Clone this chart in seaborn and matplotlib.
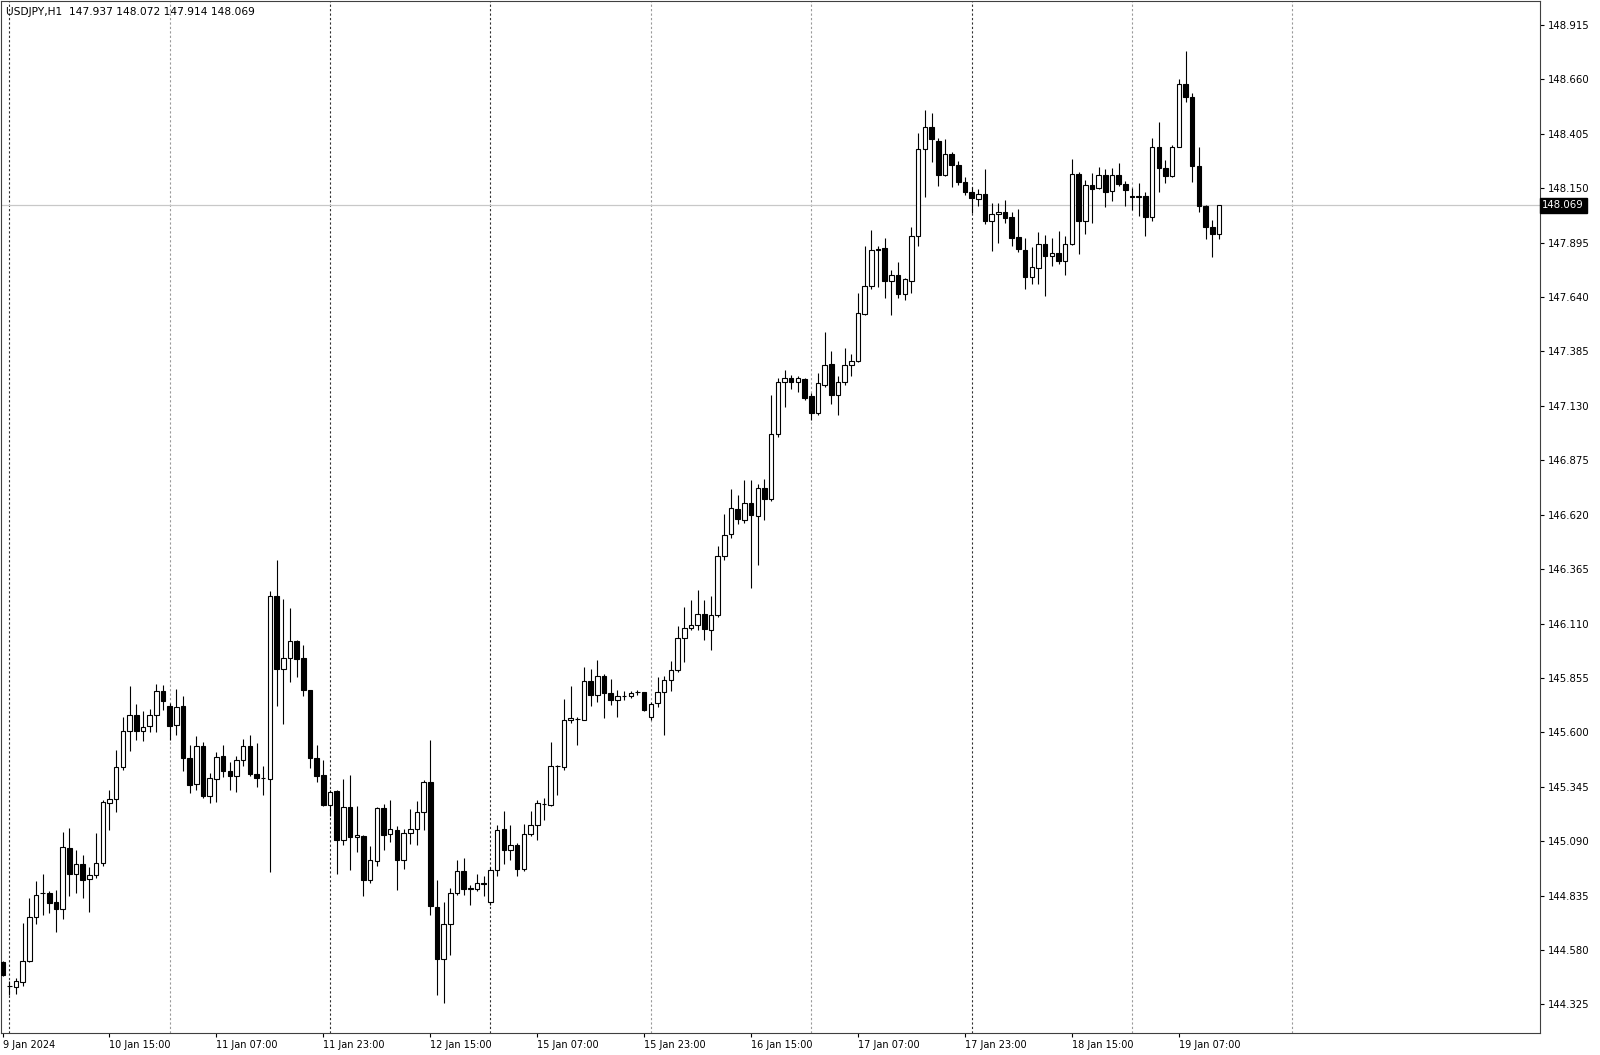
import numpy as np
import pandas as pd
import matplotlib
matplotlib.use("Agg")
import matplotlib.pyplot as plt
import matplotlib.transforms as mtransforms
import seaborn as sns

SYMBOL = "USDJPY,H1"

# hourly bars, 9 Jan 23:00 .. 19 Jan 13:00 (weekend skipped)
opens = [
    144.523, 144.411, 144.408, 144.429, 144.528, 144.736, 144.845, 144.845, 144.804, 144.773,
    145.060, 144.938, 144.981, 144.914, 144.930, 144.988, 145.270, 145.290, 145.438, 145.608,
    145.683, 145.608, 145.628, 145.682, 145.794, 145.725, 145.636, 145.722, 145.480, 145.360,
    145.538, 145.304, 145.382, 145.488, 145.421, 145.397, 145.472, 145.538, 145.407, 145.388,
    145.382, 146.241, 145.897, 145.949, 146.026, 145.949, 145.797, 145.480, 145.402, 145.262,
    145.324, 145.094, 145.251, 145.110, 145.116, 144.910, 144.996, 145.246, 145.126, 145.144,
    145.001, 145.129, 145.148, 145.229, 145.366, 144.782, 144.536, 144.704, 144.848, 144.949,
    144.867, 144.867, 144.892, 144.803, 144.957, 145.148, 145.051, 145.070, 144.960, 145.126,
    145.168, 145.266, 145.262, 145.444, 145.438, 145.656, 145.664, 145.660, 145.839, 145.777,
    145.866, 145.785, 145.753, 145.772, 145.769, 145.788, 145.788, 145.672, 145.738, 145.788,
    145.844, 145.894, 146.042, 146.089, 146.105, 146.156, 146.081, 146.152, 146.428, 146.531,
    146.647, 146.596, 146.675, 146.615, 146.745, 146.693, 146.999, 147.244, 147.260, 147.244,
    147.255, 147.177, 147.096, 147.229, 147.327, 147.182, 147.244, 147.322, 147.338, 147.561,
    147.692, 147.864, 147.869, 147.713, 147.744, 147.655, 147.717, 147.927, 148.333, 148.436,
    148.373, 148.212, 148.311, 148.259, 148.181, 148.134, 148.099, 148.123, 147.994, 148.030,
    148.040, 148.014, 147.921, 147.861, 147.736, 147.775, 147.889, 147.833, 147.846, 147.811,
    147.889, 148.217, 147.994, 148.166, 148.150, 148.212, 148.139, 148.212, 148.170, 148.114,
    148.111, 148.114, 148.017, 148.345, 148.244, 148.208, 148.345, 148.639, 148.576, 148.255,
    148.067, 147.970, 147.937,
]
highs = [
    144.528, 144.434, 144.451, 144.709, 144.826, 144.902, 144.934, 144.856, 144.863, 145.132,
    145.152, 145.048, 145.027, 144.970, 145.129, 145.285, 145.332, 145.519, 145.670, 145.819,
    145.735, 145.699, 145.711, 145.828, 145.824, 145.738, 145.804, 145.772, 145.543, 145.585,
    145.553, 145.410, 145.507, 145.543, 145.460, 145.491, 145.569, 145.589, 145.551, 145.441,
    146.261, 146.406, 146.225, 146.183, 146.034, 146.011, 145.800, 145.543, 145.472, 145.332,
    145.332, 145.382, 145.402, 145.257, 145.121, 145.066, 145.251, 145.266, 145.285, 145.160,
    145.148, 145.241, 145.277, 145.379, 145.563, 144.910, 144.804, 144.871, 145.001, 145.012,
    144.887, 144.938, 144.926, 144.967, 145.168, 145.230, 145.168, 145.082, 145.171, 145.230,
    145.282, 145.293, 145.553, 145.449, 145.757, 145.816, 145.674, 145.907, 145.897, 145.937,
    145.875, 145.850, 145.800, 145.792, 145.792, 145.800, 145.791, 145.741, 145.861, 145.862,
    145.933, 146.100, 146.188, 146.222, 146.269, 146.218, 146.237, 146.475, 146.625, 146.740,
    146.714, 146.784, 146.781, 146.765, 146.787, 147.182, 147.260, 147.299, 147.276, 147.268,
    147.260, 147.190, 147.284, 147.474, 147.385, 147.271, 147.401, 147.374, 147.661, 147.877,
    147.955, 147.877, 147.916, 147.767, 147.806, 147.729, 147.970, 148.408, 148.517, 148.504,
    148.384, 148.380, 148.322, 148.279, 148.202, 148.155, 148.145, 148.239, 148.080, 148.083,
    148.095, 148.039, 148.052, 147.916, 147.874, 147.947, 147.931, 147.916, 147.951, 147.927,
    148.286, 148.228, 148.189, 148.223, 148.248, 148.239, 148.244, 148.270, 148.186, 148.151,
    148.173, 148.134, 148.384, 148.462, 148.283, 148.353, 148.661, 148.795, 148.598, 148.342,
    148.072, 148.002, 148.072,
]
lows = [
    144.457, 144.367, 144.372, 144.411, 144.523, 144.700, 144.746, 144.754, 144.663, 144.726,
    144.832, 144.848, 144.825, 144.757, 144.918, 144.976, 145.144, 145.226, 145.426, 145.511,
    145.563, 145.558, 145.600, 145.600, 145.707, 145.563, 145.589, 145.418, 145.316, 145.329,
    145.293, 145.270, 145.272, 145.391, 145.329, 145.319, 145.444, 145.394, 145.344, 145.308,
    144.948, 145.725, 145.641, 145.834, 145.860, 145.772, 145.433, 145.366, 145.254, 145.207,
    144.934, 145.074, 144.957, 145.038, 144.835, 144.895, 144.976, 145.051, 145.085, 144.863,
    144.960, 145.079, 145.074, 145.144, 144.746, 144.367, 144.334, 144.559, 144.840, 144.840,
    144.789, 144.856, 144.832, 144.793, 144.929, 144.981, 145.004, 144.926, 144.949, 145.116,
    145.094, 145.188, 145.257, 145.308, 145.422, 145.644, 145.543, 145.656, 145.725, 145.741,
    145.668, 145.730, 145.672, 145.750, 145.761, 145.777, 145.702, 145.660, 145.721, 145.589,
    145.792, 145.881, 145.928, 146.081, 146.081, 146.034, 145.988, 146.142, 146.409, 146.511,
    146.578, 146.581, 146.277, 146.386, 146.596, 146.682, 146.984, 147.124, 147.209, 147.193,
    147.159, 147.065, 147.088, 147.218, 147.140, 147.088, 147.229, 147.271, 147.336, 147.557,
    147.677, 147.686, 147.635, 147.557, 147.635, 147.627, 147.661, 147.877, 148.108, 148.275,
    148.158, 148.208, 148.155, 148.166, 148.119, 148.033, 148.067, 147.983, 147.858, 147.895,
    147.989, 147.877, 147.853, 147.677, 147.702, 147.702, 147.646, 147.786, 147.796, 147.744,
    147.885, 147.842, 147.936, 147.989, 148.145, 148.061, 148.092, 148.161, 148.067, 148.048,
    148.020, 147.927, 147.994, 148.134, 148.176, 148.204, 148.342, 148.556, 148.181, 148.040,
    147.911, 147.828, 147.914,
]
closes = [
    144.465, 144.412, 144.434, 144.528, 144.736, 144.840, 144.847, 144.801, 144.770, 145.063,
    144.938, 144.981, 144.910, 144.930, 144.988, 145.272, 145.290, 145.438, 145.608, 145.683,
    145.608, 145.626, 145.682, 145.794, 145.745, 145.632, 145.717, 145.480, 145.355, 145.538,
    145.304, 145.385, 145.485, 145.418, 145.397, 145.472, 145.535, 145.407, 145.387, 145.385,
    146.241, 145.897, 145.949, 146.026, 145.944, 145.797, 145.480, 145.397, 145.262, 145.319,
    145.094, 145.251, 145.110, 145.121, 144.910, 145.001, 145.246, 145.121, 145.148, 145.001,
    145.129, 145.148, 145.229, 145.366, 144.785, 144.536, 144.704, 144.848, 144.949, 144.867,
    144.870, 144.892, 144.890, 144.954, 145.144, 145.051, 145.070, 144.960, 145.126, 145.168,
    145.270, 145.264, 145.444, 145.441, 145.660, 145.668, 145.662, 145.839, 145.777, 145.866,
    145.785, 145.753, 145.772, 145.770, 145.785, 145.790, 145.707, 145.735, 145.788, 145.844,
    145.894, 146.042, 146.089, 146.105, 146.156, 146.085, 146.152, 146.425, 146.526, 146.651,
    146.600, 146.675, 146.620, 146.745, 146.693, 146.999, 147.244, 147.260, 147.244, 147.260,
    147.166, 147.096, 147.237, 147.322, 147.182, 147.244, 147.322, 147.338, 147.567, 147.692,
    147.861, 147.862, 147.713, 147.744, 147.655, 147.724, 147.927, 148.333, 148.436, 148.380,
    148.212, 148.311, 148.259, 148.181, 148.134, 148.103, 148.122, 147.994, 148.030, 148.039,
    148.010, 147.916, 147.864, 147.736, 147.780, 147.889, 147.833, 147.846, 147.811, 147.889,
    148.217, 147.994, 148.166, 148.145, 148.212, 148.134, 148.212, 148.170, 148.142, 148.111,
    148.113, 148.017, 148.342, 148.244, 148.208, 148.345, 148.639, 148.576, 148.255, 148.067,
    147.970, 147.937, 148.069,
]

price_ticks = [144.325, 144.580, 144.835, 145.090, 145.345, 145.600, 145.855, 146.110,
               146.365, 146.620, 146.875, 147.130, 147.385, 147.640, 147.895, 148.150,
               148.405, 148.660, 148.915]
y_range = (144.190, 149.027)

# days whose separator looks darker in the screenshot
dark_days = ["2024-01-10", "2024-01-12", "2024-01-15", "2024-01-18"]

times = pd.date_range("2024-01-09 23:00", "2024-01-19 13:00", freq="h")
times = times[times.dayofweek < 5]
idx = np.arange(len(times))

df = pd.DataFrame({"t": times, "o": opens, "h": highs, "l": lows, "c": closes})
df["bull"] = df["c"] >= df["o"]

sns.set_theme(style="white")
plt.rcParams["font.family"] = ["DejaVu Sans"]

fig = plt.figure(figsize=(16, 10.55), dpi=100)
ax = fig.add_axes([0.0006, 0.0206, 0.9619, 0.9784])

# period separators (day starts, plus the next one to the right)
sep_idx = list(idx[times.hour == 0]) + [len(times) + 23 - times[-1].hour]
sep_days = list(times[times.hour == 0].strftime("%Y-%m-%d")) + ["2024-01-20"]
for x, d in zip(sep_idx, sep_days):
    col = "#303030" if d in dark_days else "#9a9a9a"
    ax.axvline(x, color=col, lw=0.8, ls=(0, (2, 2)), zorder=1)

# current price line
ax.axhline(closes[-1], color="#c8c8c8", lw=0.9, zorder=1)

# wicks
ax.vlines(idx, df["l"], df["h"], color="black", lw=0.8, zorder=2)

# bodies
body_lo = np.minimum(df["o"], df["c"])
body_h = np.maximum(np.abs(df["c"] - df["o"]), 0.0004)
faces = np.where(df["bull"], "white", "black")
ax.bar(idx, body_h, bottom=body_lo, width=0.68, color=faces,
       edgecolor="black", linewidth=0.8, zorder=3)

ax.set_xlim(-0.24, 230.04)
ax.set_ylim(*y_range)

# time axis labels every 16 bars
lab_idx = idx[::16]
lab_txt = []
for k, t in zip(lab_idx, times[lab_idx]):
    if k == 0:
        lab_txt.append(f"{t.day} {t:%b %Y}")
    else:
        lab_txt.append(f"{t.day} {t:%b %H:%M}")
ax.set_xticks(lab_idx)
ax.set_xticklabels(lab_txt, ha="left")

ax.yaxis.tick_right()
ax.set_yticks(price_ticks)
ax.set_yticklabels([f"{v:.3f}" for v in price_ticks])

ax.tick_params(axis="x", bottom=True, length=3, width=0.8, pad=1.5,
               labelsize=7.0, colors="black", direction="out")
ax.tick_params(axis="y", right=True, left=False, length=3, width=0.8, pad=3,
               labelsize=7.3, colors="black", direction="out")

for s in ax.spines.values():
    s.set_visible(True)
    s.set_color("#404040")
    s.set_linewidth(0.8)

# current price tag on the axis
trans = mtransforms.blended_transform_factory(ax.transAxes, ax.transData)
ax.text(1.0015, closes[-1], f"{closes[-1]:.3f}", transform=trans, color="white",
        fontsize=7.3, ha="left", va="center", clip_on=False, zorder=5,
        bbox=dict(boxstyle="square,pad=0.25", fc="black", ec="black"))

# header
ax.text(0.003, 0.989,
        f"{SYMBOL}  {opens[-1]:.3f} {highs[-1]:.3f} {lows[-1]:.3f} {closes[-1]:.3f}",
        transform=ax.transAxes, fontsize=7.7, ha="left", va="center", color="black",
        zorder=5)

fig.savefig("out.png", dpi=100, facecolor="white")
